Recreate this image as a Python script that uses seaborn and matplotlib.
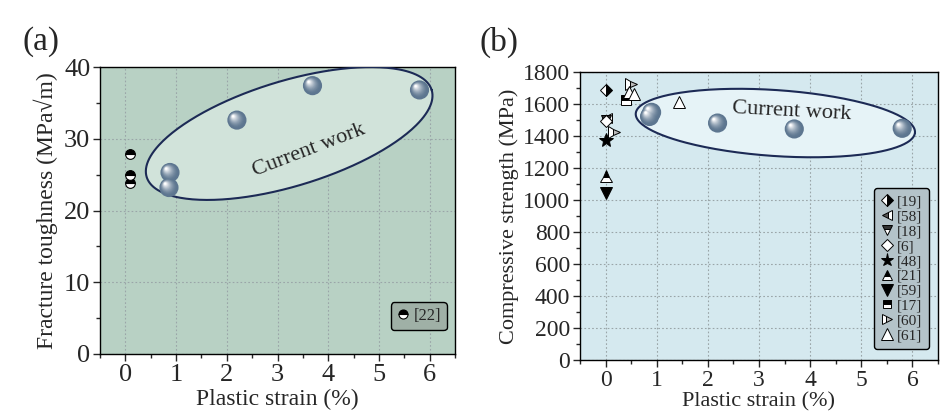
import numpy as np
import matplotlib
matplotlib.use("Agg")
import matplotlib.pyplot as plt
import matplotlib.transforms as mtransforms
from matplotlib.colors import to_rgb
from matplotlib.lines import Line2D
from matplotlib.ticker import MultipleLocator
import seaborn as sns

sns.set_style("ticks")
plt.rcParams.update({
    "font.family": ["Liberation Serif", "DejaVu Serif"],
    "mathtext.fontset": "stix",
    "xtick.direction": "out",
    "ytick.direction": "out",
})

# ---- data: panel (a) fracture toughness ----
cw_strain_a = [0.88, 0.86, 2.20, 3.69, 5.80]
cw_tough = [25.3, 23.2, 32.6, 37.4, 36.8]
ref22_strain = [0.09, 0.09, 0.09]
ref22_tough = [27.9, 24.9, 23.9]

# ---- data: panel (b) compressive strength ----
cw_strain_b = [0.90, 0.86, 2.19, 3.69, 5.80]
cw_strength = [1548, 1522, 1481, 1444, 1448]

refs_b = ["[19]", "[58]", "[18]", "[6]", "[48]", "[21]", "[59]", "[17]", "[60]", "[61]"]
ref_strain_b = {
    "[19]": [0.0], "[58]": [0.03], "[18]": [0.0], "[6]": [0.0], "[48]": [0.0],
    "[21]": [0.0], "[59]": [0.0], "[17]": [0.40], "[60]": [0.50, 0.17],
    "[61]": [0.45, 0.56, 1.43],
}
ref_strength_b = {
    "[19]": [1690], "[58]": [1515], "[18]": [1502], "[6]": [1492], "[48]": [1372],
    "[21]": [1148], "[59]": [1042], "[17]": [1625], "[60]": [1722, 1425],
    "[61]": [1672, 1665, 1612],
}
# marker, fillstyle, face, alt face, size
styles_b = {
    "[19]": ("D", "right", "black", "white", 6.5),
    "[58]": ("<", "right", "white", "#555555", 7.5),
    "[18]": ("v", "top", "#333333", "white", 7.5),
    "[6]": ("D", "full", "white", "white", 6.5),
    "[48]": ("*", "full", "black", "black", 10),
    "[21]": ("^", "top", "black", "white", 8),
    "[59]": ("v", "full", "black", "black", 9),
    "[17]": ("s", "top", "black", "white", 6.5),
    "[60]": (">", "left", "white", "#bbbbbb", 8),
    "[61]": ("^", "full", "white", "white", 9),
}

BG_A, FILL_A = "#b8d1c4", "#d1e3da"
BG_B, FILL_B = "#d5e9ef", "#e6f3f7"
EDGE = "#1c2a55"
SPHERE = "#5d7690"


def ellipse_pts(cx, cy, u, v, n=300):
    t = np.linspace(0, 2 * np.pi, n)
    return cx + u[0] * np.cos(t) + v[0] * np.sin(t), cy + u[1] * np.cos(t) + v[1] * np.sin(t)


def spheres(ax, fig, xs, ys, s=190):
    sns.scatterplot(x=xs, y=ys, ax=ax, s=s, color=SPHERE, edgecolor="none", zorder=5, legend=False)
    base = np.array(to_rgb(SPHERE))
    r = np.sqrt(s) / 2
    for i, f in enumerate(np.linspace(0.85, 0.12, 12)):
        k = (i + 1) / 12
        col = base + (1 - base) * k ** 1.6
        off = (1 - f) * r * 0.45
        tr = mtransforms.offset_copy(ax.transData, fig=fig, x=-off, y=off, units="points")
        ax.scatter(xs, ys, s=s * f * f, color=col, edgecolor="none", zorder=6 + i, transform=tr)


def style_axes(ax, bg, ymax, ymajor, yminor, tick_fs):
    ax.set_facecolor(bg)
    ax.set_xlim(-0.5, 6.5)
    ax.set_ylim(0, ymax)
    ax.xaxis.set_major_locator(MultipleLocator(1))
    ax.xaxis.set_minor_locator(MultipleLocator(0.5))
    ax.yaxis.set_major_locator(MultipleLocator(ymajor))
    ax.yaxis.set_minor_locator(MultipleLocator(yminor))
    ax.grid(True, which="major", ls=(0, (1.5, 2)), color="#9aa5a8", lw=0.8)
    ax.set_axisbelow(True)
    ax.tick_params(which="major", length=5, width=1, labelsize=tick_fs, pad=2)
    ax.tick_params(which="minor", length=3, width=1)
    for sp in ax.spines.values():
        sp.set_color("black")
        sp.set_linewidth(1.0)


fig = plt.figure(figsize=(9.4, 4.2), dpi=100)

# ---------------- panel (a) ----------------
ax1 = fig.add_axes([100 / 940, 66 / 420, 355 / 940, 287 / 420])
style_axes(ax1, BG_A, 40, 10, 5, 19)
ex, ey = ellipse_pts(3.23, 30.73, (2.81, 6.06), (-0.302, 7.0))
ax1.fill(ex, ey, color=FILL_A, zorder=2)
ax1.plot(ex, ey, color=EDGE, lw=1.5, zorder=3)
ax1.text(3.63, 28.3, "Current work", rotation=21, ha="center", va="center", fontsize=16, zorder=4)
ax1.plot(ref22_strain, ref22_tough, ls="none", marker="o", ms=7, fillstyle="top",
         markerfacecolor="black", markerfacecoloralt="white", markeredgecolor="black",
         markeredgewidth=0.8, zorder=5)
spheres(ax1, fig, cw_strain_a, cw_tough)
ax1.set_xlabel("Plastic strain (%)", fontsize=17, labelpad=2)
ax1.set_ylabel("Fracture toughness (MPa\u221am)", fontsize=17, labelpad=4)
h22 = Line2D([], [], ls="none", marker="o", ms=6.5, fillstyle="top", markerfacecolor="black",
             markerfacecoloralt="white", markeredgecolor="black", markeredgewidth=0.8)
leg1 = ax1.legend([h22], ["[22]"], loc="lower right", bbox_to_anchor=(1.0, 0.055), fontsize=12,
                  handlelength=0.7, handletextpad=0.3, borderpad=0.35, borderaxespad=0.5,
                  fancybox=True, facecolor="#9fb0a6", edgecolor="black", framealpha=1)
leg1.get_frame().set_linewidth(1.0)
fig.text(22 / 940, 1 - 42 / 420, "(a)", fontsize=24, ha="left", va="center")

# ---------------- panel (b) ----------------
ax2 = fig.add_axes([580 / 940, 60 / 420, 358 / 940, 288 / 420])
style_axes(ax2, BG_B, 1800, 200, 100, 17)
ex, ey = ellipse_pts(3.32, 1481, (2.73, -59.4), (0.044, 205.6))
ax2.fill(ex, ey, color=FILL_B, zorder=2)
ax2.plot(ex, ey, color=EDGE, lw=1.5, zorder=3)
ax2.text(3.64, 1552, "Current work", rotation=-3, ha="center", va="center", fontsize=16, zorder=4)
handles = []
for ref in refs_b:
    m, fs, fc, fca, ms = styles_b[ref]
    kw = dict(ls="none", marker=m, ms=ms, fillstyle=fs, markerfacecolor=fc,
              markerfacecoloralt=fca, markeredgecolor="black", markeredgewidth=0.7)
    ax2.plot(ref_strain_b[ref], ref_strength_b[ref], zorder=5, **kw)
    handles.append(Line2D([], [], **kw))
spheres(ax2, fig, cw_strain_b, cw_strength)
ax2.set_xlabel("Plastic strain (%)", fontsize=16, labelpad=1)
ax2.set_ylabel("Compressive strength (MPa)", fontsize=16, labelpad=3)
leg2 = ax2.legend(handles, refs_b, loc="lower right", bbox_to_anchor=(0.995, 0.01), fontsize=11,
                  handlelength=0.9, handletextpad=0.15, labelspacing=0.08, borderpad=0.45,
                  markerscale=0.95, fancybox=True, facecolor="#b4c3c9", edgecolor="black",
                  framealpha=1)
leg2.get_frame().set_linewidth(1.0)
fig.text(480 / 940, 1 - 42 / 420, "(b)", fontsize=24, ha="left", va="center")

fig.savefig("out.png", dpi=100)
